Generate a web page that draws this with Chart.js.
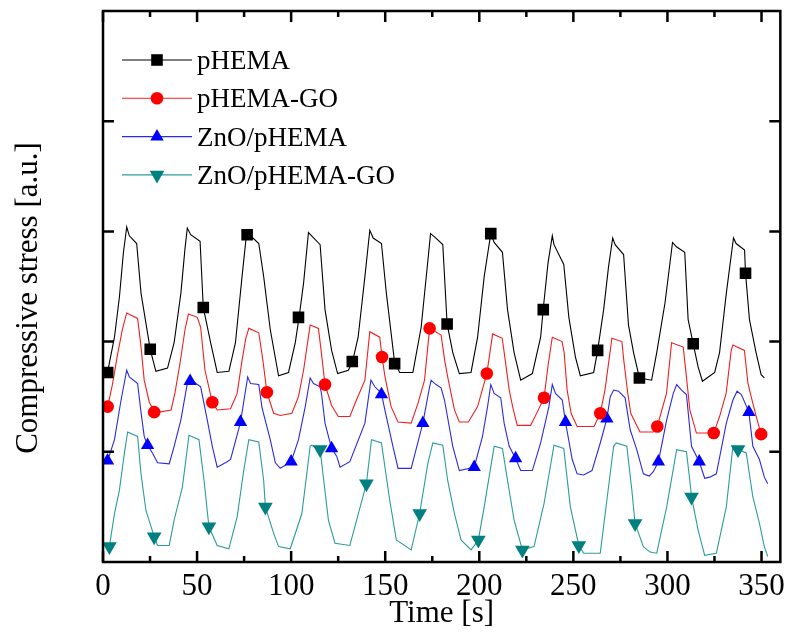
<!DOCTYPE html>
<html>
<head>
<meta charset="utf-8">
<title>Compressive stress</title>
<script src="https://cdn.jsdelivr.net/npm/chart.js@4.4.0/dist/chart.umd.min.js"></script>
<style>
    html, body { margin: 0; padding: 0; background: #fff; }
    #wrap { width: 791px; height: 634px; }
</style>
</head>
<body>
<div id="wrap"><canvas id="stressChart"></canvas></div>
<script>
// axis ticks
const timeTicks = [0, 50, 100, 150, 200, 250, 300, 350];
const timeMinor = [25, 75, 125, 175, 225, 275, 325];
const stressTicks = [1, 2, 3, 4];

const seriesNames = ['pHEMA', 'pHEMA-GO', 'ZnO/pHEMA', 'ZnO/pHEMA-GO'];

// pHEMA curve
const pHemaT = [2.4, 6.1, 8.7, 10.8, 12.6, 14.0, 17.9, 20.2, 25.1, 28.1,
    34.3, 37.8, 41.4, 43.5, 44.8, 46.6, 51.6, 53.3, 57.2, 60.7,
    66.9, 70.4, 73.9, 76.3, 78.4, 82.8, 85.4, 88.9, 93.3, 98.6,
    102.2, 104.2, 106.6, 109.2, 110.9, 115.4, 118.0, 121.5, 124.7, 130.4,
    132.5, 135.6, 139.2, 141.8, 143.6, 148.0, 150.6, 155.0, 157.7, 164.7,
    169.1, 172.7, 174.1, 176.2, 180.6, 182.9, 185.9, 189.4, 195.6, 199.1,
    202.6, 206.1, 207.9, 212.3, 215.0, 218.5, 222.0, 228.2, 232.6, 234.0,
    236.5, 238.8, 239.7, 244.9, 247.6, 251.1, 253.7, 260.8, 262.9, 266.1,
    268.7, 270.9, 272.2, 276.7, 279.3, 282.0, 285.1, 291.6, 294.3, 298.7,
    302.7, 304.8, 309.2, 311.0, 313.7, 316.3, 318.6, 325.1, 327.7, 331.3,
    335.1, 336.5, 341.0, 341.5, 343.6, 347.1, 349.8, 351.5];
const pHemaV = [1.72, 2.04, 2.40, 2.80, 3.04, 2.96, 2.89, 2.44, 1.93, 1.73,
    1.76, 1.99, 2.44, 2.83, 3.03, 2.97, 2.91, 2.31, 1.99, 1.72,
    1.73, 1.99, 2.59, 2.98, 2.96, 2.89, 2.59, 2.11, 1.69, 1.72,
    1.99, 2.22, 2.53, 2.99, 2.96, 2.88, 2.29, 1.92, 1.71, 1.74,
    1.81, 2.04, 2.59, 3.01, 2.94, 2.89, 2.44, 1.81, 1.72, 1.72,
    2.13, 2.74, 2.98, 2.95, 2.88, 2.16, 1.90, 1.71, 1.72, 2.04,
    2.59, 2.98, 2.90, 2.81, 2.29, 1.90, 1.65, 1.71, 2.04, 2.30,
    2.71, 2.96, 2.88, 2.70, 2.22, 1.86, 1.69, 1.72, 1.92, 2.29,
    2.68, 2.94, 2.88, 2.79, 2.15, 1.90, 1.67, 1.65, 1.90, 2.35,
    2.90, 2.86, 2.81, 2.20, 1.98, 1.77, 1.64, 1.72, 1.90, 2.44,
    2.94, 2.89, 2.83, 2.62, 2.20, 1.90, 1.70, 1.67];
const pHemaSymT = [2.5, 25.1, 53.3, 76.6, 103.9, 132.5, 155.0, 182.9, 206.1, 234.0, 262.9, 285.1, 313.7, 341.5];
const pHemaSymV = [1.72, 1.93, 2.31, 2.97, 2.22, 1.82, 1.80, 2.16, 2.98, 2.29, 1.92, 1.67, 1.98, 2.62];

// pHEMA-GO curve
const pHemaGoT = [2.5, 5.0, 7.7, 10.3, 12.6, 18.4, 20.1, 21.9, 24.6, 27.2,
    29.9, 36.2, 38.3, 41.0, 43.6, 45.4, 50.1, 51.9, 54.2, 58.1,
    60.7, 67.8, 71.3, 73.9, 75.9, 77.5, 82.8, 85.0, 87.1, 90.7,
    94.2, 100.4, 103.9, 106.6, 110.1, 114.5, 116.2, 118.0, 121.5, 125.1,
    131.2, 134.7, 139.2, 141.8, 147.1, 148.3, 149.9, 153.1, 156.8, 163.8,
    167.4, 170.9, 173.6, 179.7, 181.6, 183.2, 186.8, 189.4, 194.2, 199.1,
    204.0, 207.1, 212.2, 213.8, 215.9, 218.1, 220.2, 227.3, 230.8, 234.4,
    236.6, 238.8, 244.0, 245.1, 246.7, 248.8, 252.0, 261.0, 264.3, 266.8,
    268.9, 270.5, 275.8, 276.8, 279.0, 280.5, 285.4, 292.5, 294.6, 299.5,
    302.2, 308.4, 310.1, 311.9, 315.4, 324.6, 327.7, 331.2, 333.9, 334.8,
    340.9, 342.8, 344.5, 347.2, 349.8];
const pHemaGoV = [1.41, 1.61, 1.88, 2.11, 2.26, 2.21, 1.97, 1.65, 1.45, 1.37,
    1.36, 1.38, 1.54, 1.81, 2.11, 2.25, 2.22, 2.13, 1.74, 1.45,
    1.38, 1.39, 1.53, 1.83, 2.03, 2.12, 2.08, 1.83, 1.54, 1.35,
    1.33, 1.35, 1.50, 1.74, 2.15, 2.12, 1.88, 1.61, 1.42, 1.32,
    1.32, 1.47, 1.65, 2.09, 2.04, 1.86, 1.68, 1.41, 1.27, 1.26,
    1.44, 1.65, 2.12, 2.06, 1.83, 1.68, 1.38, 1.27, 1.27, 1.41,
    1.71, 2.07, 2.03, 1.83, 1.56, 1.38, 1.24, 1.24, 1.36, 1.49,
    1.79, 2.04, 2.00, 1.90, 1.56, 1.35, 1.23, 1.23, 1.35, 1.56,
    1.83, 2.03, 2.00, 1.83, 1.52, 1.35, 1.18, 1.18, 1.23, 1.53,
    1.99, 1.95, 1.68, 1.38, 1.17, 1.17, 1.32, 1.53, 1.92, 1.97,
    1.92, 1.62, 1.50, 1.32, 1.16];
const pHemaGoSymT = [2.5, 27.2, 58.1, 87.1, 118.0, 148.3, 173.6, 204.0, 234.4, 264.3, 294.6, 324.6, 349.8];
const pHemaGoSymV = [1.41, 1.36, 1.45, 1.54, 1.61, 1.86, 2.12, 1.71, 1.49, 1.35, 1.23, 1.17, 1.16];

// ZnO/pHEMA curve
const znoT = [2.5, 6.1, 9.6, 12.6, 14.0, 18.4, 20.2, 21.9, 23.7, 26.3,
    29.0, 35.2, 37.8, 41.4, 44.7, 46.3, 49.4, 51.9, 55.4, 58.1,
    60.7, 66.0, 67.8, 73.1, 76.9, 78.4, 82.8, 84.5, 88.9, 91.6,
    94.2, 100.0, 103.9, 107.5, 110.1, 111.9, 115.4, 116.2, 118.0, 121.5,
    124.2, 126.0, 131.2, 139.2, 142.4, 144.5, 148.0, 149.8, 154.1, 156.8,
    163.8, 170.0, 173.6, 174.4, 177.0, 179.7, 181.5, 185.9, 189.4, 197.3,
    201.7, 204.4, 206.1, 207.9, 211.4, 213.2, 215.9, 219.3, 222.0, 228.2,
    232.6, 237.0, 238.8, 240.5, 244.1, 245.8, 249.4, 252.0, 255.5, 259.9,
    264.3, 267.8, 269.6, 271.4, 274.0, 277.5, 280.2, 283.7, 287.2, 290.3,
    292.5, 295.2, 299.6, 303.1, 304.9, 307.5, 310.1, 312.8, 316.9, 319.8,
    322.5, 326.0, 331.3, 334.8, 337.0, 339.3, 343.3, 345.4, 348.9, 351.5,
    353.3];
const znoV = [0.92, 1.11, 1.47, 1.74, 1.68, 1.62, 1.36, 1.14, 1.06, 0.99,
    0.90, 0.89, 1.05, 1.29, 1.61, 1.67, 1.62, 1.59, 1.29, 1.05,
    0.86, 0.91, 0.93, 1.27, 1.68, 1.62, 1.61, 1.40, 1.11, 0.90,
    0.85, 0.91, 1.11, 1.41, 1.67, 1.62, 1.59, 1.52, 1.26, 1.03,
    0.96, 0.86, 0.91, 1.26, 1.65, 1.59, 1.53, 1.38, 1.05, 0.85,
    0.85, 1.26, 1.59, 1.65, 1.61, 1.58, 1.47, 1.05, 0.83, 0.86,
    1.14, 1.41, 1.61, 1.53, 1.49, 1.26, 1.05, 0.94, 0.83, 0.83,
    1.08, 1.41, 1.61, 1.53, 1.47, 1.27, 0.93, 0.80, 0.79, 0.83,
    1.08, 1.30, 1.50, 1.56, 1.55, 1.49, 1.20, 1.02, 0.80, 0.78,
    0.82, 0.91, 1.29, 1.53, 1.61, 1.56, 1.52, 1.05, 0.91, 0.76,
    0.77, 0.80, 1.26, 1.47, 1.55, 1.52, 1.36, 1.05, 0.93, 0.77,
    0.71];
const znoSymT = [2.4, 23.7, 46.3, 73.1, 100.0, 121.5, 148.0, 170.0, 197.3, 219.3, 245.8, 267.8, 295.2, 316.9, 343.3];
const znoSymV = [0.92, 1.06, 1.64, 1.27, 0.91, 1.03, 1.52, 1.26, 0.86, 0.94, 1.27, 1.30, 0.91, 0.91, 1.36];

// ZnO/pHEMA-GO curve
const znoGoT = [3.4, 6.1, 8.7, 11.4, 13.1, 18.4, 20.2, 22.8, 27.2, 29.0,
    35.2, 37.8, 42.2, 45.7, 51.0, 53.7, 56.3, 60.7, 66.9, 71.3,
    74.8, 77.5, 82.8, 85.4, 86.3, 90.7, 93.3, 99.5, 105.7, 110.1,
    110.9, 115.4, 119.8, 123.3, 131.2, 140.0, 142.7, 148.0, 152.4, 155.9,
    163.8, 168.3, 172.7, 175.3, 180.6, 183.2, 186.8, 190.3, 195.6, 199.5,
    202.6, 207.9, 212.3, 215.0, 218.5, 222.9, 229.1, 234.4, 239.7, 244.9,
    248.4, 252.9, 255.5, 264.3, 267.8, 271.4, 272.8, 278.4, 281.1, 282.8,
    287.2, 290.7, 294.3, 299.6, 304.9, 310.1, 311.9, 312.8, 316.3, 319.8,
    326.0, 331.3, 334.8, 337.5, 341.9, 345.4, 348.9, 351.5, 353.3];
const znoGoV = [0.14, 0.44, 0.65, 0.99, 1.18, 1.14, 0.80, 0.47, 0.23, 0.15,
    0.15, 0.38, 0.68, 1.15, 1.11, 0.74, 0.32, 0.15, 0.12, 0.41,
    0.83, 1.11, 1.09, 0.74, 0.50, 0.26, 0.14, 0.12, 0.44, 1.05,
    1.06, 1.02, 0.38, 0.17, 0.15, 0.71, 1.11, 1.08, 0.56, 0.20,
    0.11, 0.44, 0.90, 1.08, 1.06, 0.74, 0.44, 0.20, 0.11, 0.20,
    0.50, 1.05, 1.03, 0.74, 0.38, 0.11, 0.14, 0.53, 1.06, 1.03,
    0.50, 0.15, 0.08, 0.08, 0.56, 1.05, 1.08, 1.05, 0.65, 0.35,
    0.14, 0.09, 0.08, 0.50, 1.02, 1.00, 0.74, 0.59, 0.29, 0.06,
    0.08, 0.50, 1.05, 1.02, 0.99, 0.59, 0.35, 0.14, 0.05];
const znoGoSymT = [3.4, 27.2, 56.3, 86.3, 115.4, 140.0, 168.3, 199.5, 222.9, 252.9, 282.8, 312.8, 337.5];
const znoGoSymV = [0.14, 0.23, 0.32, 0.50, 1.02, 0.71, 0.44, 0.20, 0.11, 0.15, 0.35, 0.59, 1.02];

const curves = [[pHemaT, pHemaV], [pHemaGoT, pHemaGoV], [znoT, znoV], [znoGoT, znoGoV]];
const symbols = [[pHemaSymT, pHemaSymV], [pHemaGoSymT, pHemaGoSymV], [znoSymT, znoSymV], [znoGoSymT, znoGoSymV]];

const looks = [
    { line: '#000000', fill: '#000000', shape: 'rect', radius: 8.2, rotation: 0 },
    { line: '#f02020', fill: '#ff0000', shape: 'circle', radius: 6.3, rotation: 0 },
    { line: '#2a2ae0', fill: '#0000ff', shape: 'triangle', radius: 7.7, rotation: 0 },
    { line: '#2c9c9c', fill: '#008080', shape: 'triangle', radius: 8.5, rotation: 180 }
];
const serif = '"Liberation Serif", "Times New Roman", serif';

const xy = (ts, vs) => ts.map((t, i) => ({ x: t, y: vs[i] }));

// symbols go first so they are painted over the lines
const symbolSets = symbols.map(([ts, vs], i) => ({
    label: seriesNames[i],
    data: xy(ts, vs),
    showLine: false,
    pointStyle: looks[i].shape,
    pointRotation: looks[i].rotation,
    pointRadius: looks[i].radius,
    pointHoverRadius: looks[i].radius,
    pointBackgroundColor: looks[i].fill,
    pointBorderColor: looks[i].fill,
    pointBorderWidth: 0
}));
const curveSets = curves.map(([ts, vs], i) => ({
    label: seriesNames[i],
    data: xy(ts, vs),
    showLine: true,
    borderColor: looks[i].line,
    borderWidth: 1.1,
    pointRadius: 0,
    tension: 0
}));

// box frame with inward ticks, y title and the legend block
const framePlugin = {
    id: 'frame',
    afterDraw(chart) {
        const { ctx, chartArea: a, scales: { x, y } } = chart;
        ctx.save();
        ctx.strokeStyle = '#000';
        ctx.lineWidth = 2.5;
        ctx.strokeRect(a.left, a.top, a.right - a.left, a.bottom - a.top);
        ctx.beginPath();
        const xTick = (vals, len) => vals.forEach(v => {
            const px = x.getPixelForValue(v);
            ctx.moveTo(px, a.bottom); ctx.lineTo(px, a.bottom - len);
            ctx.moveTo(px, a.top); ctx.lineTo(px, a.top + len);
        });
        xTick(timeTicks, 11);
        xTick(timeMinor, 6);
        stressTicks.forEach(v => {
            const py = y.getPixelForValue(v);
            ctx.moveTo(a.left, py); ctx.lineTo(a.left + 11, py);
            ctx.moveTo(a.right, py); ctx.lineTo(a.right - 11, py);
        });
        ctx.stroke();

        // y axis title
        ctx.fillStyle = '#000';
        ctx.font = '31px ' + serif;
        ctx.textAlign = 'center';
        ctx.textBaseline = 'middle';
        ctx.translate(29, 298);
        ctx.rotate(-Math.PI / 2);
        ctx.fillText('Compressive stress [a.u.]', 0, 0);
        ctx.restore();

        // legend
        seriesNames.forEach((name, i) => {
            const rowY = a.top + 49 + i * 38.3;
            const lk = looks[i];
            ctx.save();
            ctx.strokeStyle = lk.line;
            ctx.lineWidth = 1.1;
            ctx.beginPath();
            ctx.moveTo(a.left + 19, rowY);
            ctx.lineTo(a.left + 89, rowY);
            ctx.stroke();
            ctx.fillStyle = lk.fill;
            Chart.helpers.drawPoint(ctx, {
                pointStyle: lk.shape, radius: lk.radius, rotation: lk.rotation, borderWidth: 0
            }, a.left + 54, rowY);
            ctx.fillStyle = '#000';
            ctx.font = '27px ' + serif;
            ctx.textAlign = 'left';
            ctx.textBaseline = 'alphabetic';
            ctx.fillText(name, a.left + 94, rowY + 9);
            ctx.restore();
        });
    }
};

const ctxStress = document.getElementById('stressChart').getContext('2d');
const stressChart = new Chart(ctxStress, {
    type: 'scatter',
    data: { datasets: [...symbolSets, ...curveSets] },
    options: {
        responsive: true,
        maintainAspectRatio: false,
        devicePixelRatio: 1,
        animation: false,
        layout: { padding: { top: 11, right: 7, left: 0, bottom: 0 } },
        plugins: {
            legend: { display: false },
            tooltip: { enabled: false }
        },
        scales: {
            x: {
                type: 'linear',
                min: 0,
                max: 360,
                afterBuildTicks: s => { s.ticks = timeTicks.map(v => ({ value: v })); },
                afterFit: s => { s.height = 72; },
                grid: { display: false, drawTicks: false },
                border: { display: false },
                ticks: { color: '#000', padding: 6, font: { family: serif, size: 31 } },
                title: {
                    display: true,
                    text: 'Time [s]',
                    color: '#000',
                    font: { family: serif, size: 31, lineHeight: 1.2 },
                    padding: { top: 0, bottom: 2 }
                }
            },
            y: {
                type: 'linear',
                min: 0,
                max: 5,
                afterBuildTicks: s => { s.ticks = stressTicks.map(v => ({ value: v })); },
                afterFit: s => { s.width = 103; },
                grid: { display: false, drawTicks: false },
                border: { display: false },
                ticks: { display: false }
            }
        }
    },
    plugins: [framePlugin]
});
</script>
</body>
</html>
